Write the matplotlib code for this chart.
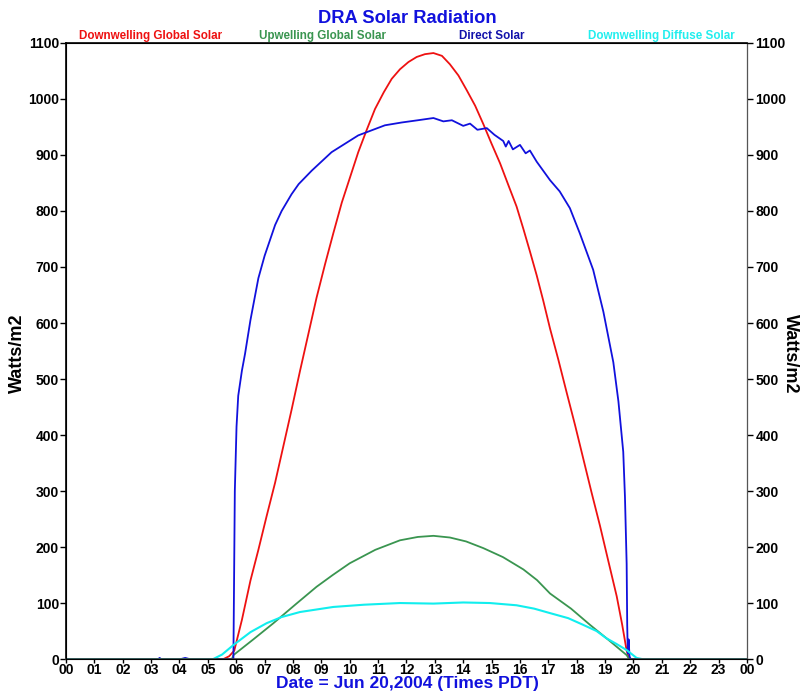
import matplotlib
matplotlib.use('Agg')
import matplotlib.pyplot as plt

plt.rcParams['font.family'] = ['Liberation Sans', 'DejaVu Sans']

# hours (PDT) and readings in W/m2
glob_h = [0, 5.55, 5.75, 5.93, 6.2, 6.5, 6.78, 7.07, 7.37, 7.66, 7.95, 8.25, 8.54,
          8.83, 9.13, 9.42, 9.72, 10.01, 10.3, 10.6, 10.89, 11.2, 11.48, 11.77,
          12.07, 12.36, 12.65, 12.95, 13.25, 13.53, 13.83, 14.12, 14.42, 14.71,
          15.0, 15.3, 15.6, 15.88, 16.12, 16.35, 16.59, 16.82, 17.06, 17.35,
          17.65, 17.94, 18.23, 18.52, 18.82, 19.1, 19.41, 19.6, 19.76, 19.85, 24]
glob_v = [0, 0, 5, 15, 70, 140, 195, 255, 315, 380, 445, 515, 580,
          645, 705, 760, 815, 860, 905, 945, 982, 1012, 1036, 1053,
          1066, 1075, 1080, 1082, 1077, 1062, 1042, 1016, 988, 955,
          920, 885, 845, 808, 768, 728, 685, 640, 590, 535,
          475, 418, 358, 298, 238, 178, 112, 62, 15, 0, 0]

up_h = [0, 5.85, 5.9, 6.6, 7.31, 8.1, 8.83, 9.4, 10.0, 10.9, 11.77, 12.4, 12.95,
        13.53, 14.1, 14.71, 15.4, 16.12, 16.6, 17.06, 17.8, 18.47, 19.1, 19.76,
        19.85, 24]
up_v = [0, 0, 7, 35, 64, 98, 129, 150, 171, 195, 212, 218, 220,
        217, 210, 198, 182, 160, 141, 117, 90, 61, 35, 7,
        0, 0]

direct_h = [0, 3.25, 3.3, 3.35, 4.05, 4.2, 4.35, 5.9, 5.95, 6.01, 6.07, 6.2, 6.31,
            6.5, 6.78, 7.0, 7.37, 7.6, 7.95, 8.2, 8.66, 9.36, 10.3, 11.24, 11.83,
            12.4, 12.95, 13.3, 13.6, 14.0, 14.24, 14.5, 14.83, 15.1, 15.41, 15.5,
            15.6, 15.75, 16.0, 16.2, 16.35, 16.59, 17.06, 17.4, 17.76, 18.11,
            18.58, 18.94, 19.29, 19.47, 19.64, 19.7, 19.76, 19.78, 19.8, 19.83,
            19.86, 19.9, 24]
direct_v = [0, 0, 2, 0, 0, 2, 0, 0, 300, 415, 470, 515, 545,
            605, 680, 720, 775, 800, 830, 848, 872, 905, 935, 953, 958,
            962, 966, 960, 962, 952, 956, 945, 948, 936, 925, 915,
            925, 910, 918, 903, 908, 888, 855, 835, 805, 760,
            695, 620, 530, 460, 370, 290, 170, 60, 10, 35,
            5, 0, 0]

diff_h = [0, 5.19, 5.5, 5.9, 6.5, 7.07, 7.6, 8.25, 9.42, 10.5, 11.77, 12.95, 14.0,
          14.94, 15.88, 16.5, 17.06, 17.7, 18.23, 18.7, 19.05, 19.4, 19.76, 20.11,
          20.3, 24]
diff_v = [0, 0, 8, 25, 48, 64, 75, 84, 93, 97, 100, 99, 101,
          100, 96, 90, 82, 73, 61, 50, 37, 27, 16, 2,
          0, 0]

hour_labels = ['%02d' % h for h in range(24)] + ['00']

fig = plt.figure(figsize=(8.03, 6.93), dpi=100)
ax = fig.add_axes([0.0822, 0.049, 0.848, 0.889])

ax.plot(glob_h, glob_v, color='#ee1111', lw=1.3)
ax.plot(up_h, up_v, color='#3a9550', lw=1.3)
ax.plot(direct_h, direct_v, color='#1111dd', lw=1.3)
ax.plot(diff_h, diff_v, color='#11eeee', lw=1.5)

ax.set_xlim(0, 24)
ax.set_ylim(0, 1100)
ax.set_xticks(range(25))
ax.set_xticklabels(hour_labels)
ax.set_yticks(range(0, 1101, 100))
ax.tick_params(axis='y', labelsize=10, length=4, width=1, pad=1)
ax.tick_params(axis='x', labelsize=10, length=3, width=1, pad=0)
for lab in ax.get_xticklabels() + ax.get_yticklabels():
    lab.set_fontweight('bold')

ax2 = ax.twinx()
ax2.set_ylim(0, 1100)
ax2.set_yticks(range(0, 1101, 100))
ax2.tick_params(axis='y', labelsize=10, length=4, width=1, pad=2)
for lab in ax2.get_yticklabels():
    lab.set_fontweight('bold')
ax2.spines['right'].set_color('#555555')
for s in ['left', 'bottom', 'top']:
    ax.spines[s].set_linewidth(1.2)
ax.spines['bottom'].set_color('#444444')

# axis titles placed as figure text so they stay inside the canvas
fig.text(0.022, 0.49, 'Watts/m2', rotation=90, ha='center', va='center',
         fontsize=13, fontweight='bold')
fig.text(0.984, 0.49, 'Watts/m2', rotation=270, ha='center', va='center',
         fontsize=13, fontweight='bold')
fig.text(0.507, 0.003, 'Date = Jun 20,2004 (Times PDT)', ha='center', va='bottom',
         fontsize=12.5, fontweight='bold', color='#1111dd')

fig.text(0.507, 0.974, 'DRA Solar Radiation', ha='center', va='center',
         fontsize=13.2, fontweight='bold', color='#1111dd')
fig.text(0.188, 0.948, 'Downwelling Global Solar', ha='center', va='center',
         fontsize=8.4, fontweight='bold', color='#ee1111')
fig.text(0.401, 0.948, 'Upwelling Global Solar', ha='center', va='center',
         fontsize=8.4, fontweight='bold', color='#3a9550')
fig.text(0.612, 0.948, 'Direct Solar', ha='center', va='center',
         fontsize=8.4, fontweight='bold', color='#1111aa')
fig.text(0.824, 0.948, 'Downwelling Diffuse Solar', ha='center', va='center',
         fontsize=8.4, fontweight='bold', color='#22eeee')

fig.savefig('out.png', dpi=100)
